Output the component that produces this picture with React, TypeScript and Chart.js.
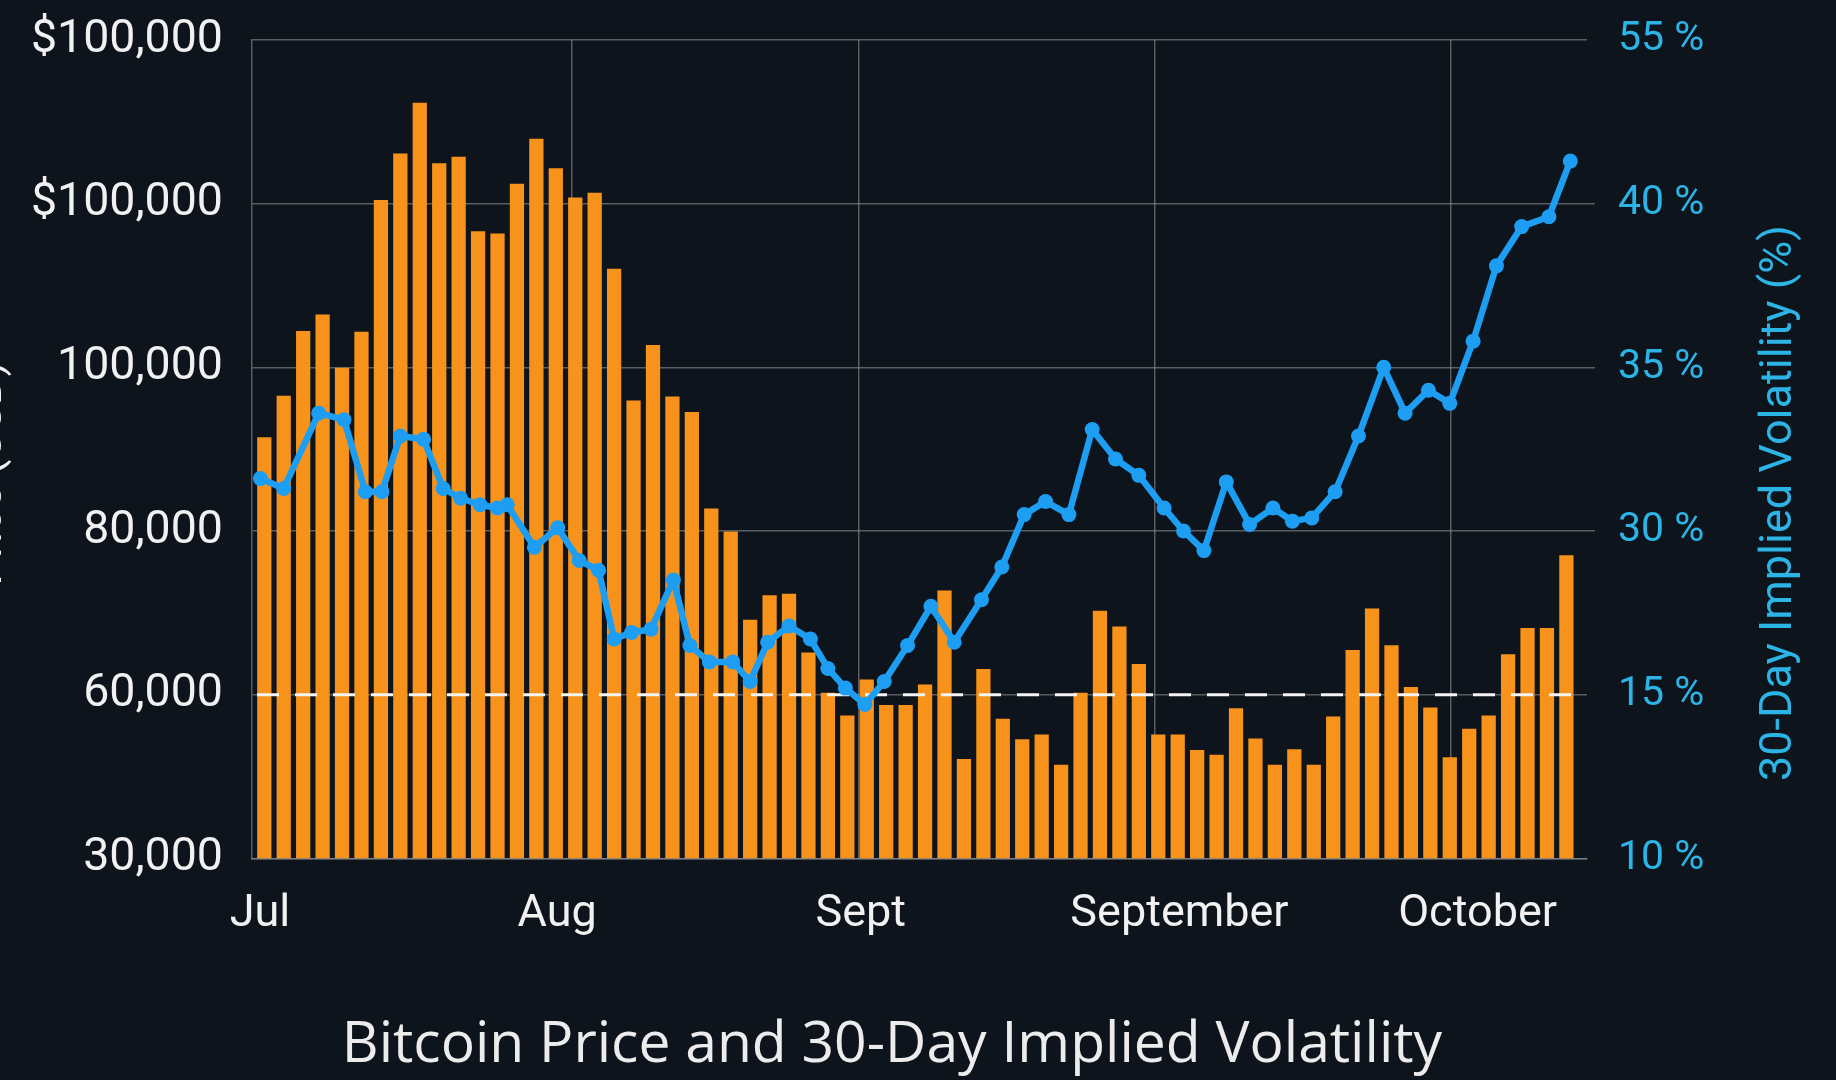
import { useEffect, useRef } from 'react';
import { Chart, registerables } from 'chart.js';

Chart.register(...registerables);

// Daily BTC closing price (USD), one bar per trading day (day index = position)
const PRICE_BARS = [
  91400, 96500, 104400, 106400, 99900, 104300, 120400, 126100, 132300, 124900,
  125700, 116600, 116300, 122400, 127900, 124300, 120700, 121300, 112000, 95900,
  102700, 96400, 94500, 82700, 79900, 69100, 72100, 72300, 65100, 60200,
  57400, 61800, 58700, 58700, 61200, 72700, 52100, 63100, 57000, 54500,
  55100, 51400, 60200, 70200, 68300, 63700, 55100, 55100, 53200, 52600,
  58300, 54600, 51400, 53300, 51400, 57300, 65400, 70500, 66000, 60900,
  58400, 52300, 55800, 57400, 64900, 68100, 68100, 77000,
];

// 30-day implied volatility samples: time (in trading days) and value (%)
const VOL_DAYS = [
  -0.2, 1.0, 2.8, 4.1, 5.2, 6.05, 7.0, 8.2, 9.2, 10.1,
  11.1, 12.0, 12.5, 13.9, 15.1, 16.2, 17.2, 18.0, 18.9, 19.9,
  21.05, 21.9, 22.9, 24.1, 25.0, 25.9, 27.0, 28.1, 29.0, 29.9,
  30.9, 31.9, 33.1, 34.3, 35.5, 36.9, 37.95, 39.1, 40.2, 41.4,
  42.6, 43.8, 45.0, 46.3, 47.3, 48.35, 49.5, 50.7, 51.9, 52.9,
  53.9, 55.1, 56.3, 57.6, 58.7, 59.9, 61.0, 62.2, 63.4, 64.7,
  66.1, 67.2,
];
const VOL_POINTS = [
  31.6, 31.3, 33.6, 33.4, 31.2, 31.2, 32.9, 32.8, 31.3, 31.0,
  30.8, 30.7, 30.8, 29.5, 30.1, 29.1, 28.8, 26.7, 26.9, 27.0,
  28.5, 26.5, 26.0, 26.0, 25.4, 26.6, 27.1, 26.7, 25.8, 25.2,
  24.7, 25.4, 26.5, 27.7, 26.6, 27.9, 28.9, 30.5, 30.9, 30.5,
  33.1, 32.2, 31.7, 30.7, 30.0, 29.4, 31.5, 30.2, 30.7, 30.3,
  30.4, 31.2, 32.9, 35.0, 33.6, 34.3, 33.9, 35.8, 38.1, 39.3,
  39.6, 41.3,
];

const PRICE_TICK_VALUES = [40000, 60000, 80000, 100000, 120000, 140000];
const PRICE_TICK_LABELS = ['30,000', '60,000', '80,000', '100,000', '$100,000', '$100,000'];

const VOL_TICK_VALUES = [20, 25, 30, 35, 40, 45];
const VOL_TICK_LABELS = ['10 %', '15 %', '30 %', '35 %', '40 %', '55 %'];

// Month labels and month separators, in trading-day units
const MONTH_LABELS = ['Jul', 'Aug', 'Sept', 'September', 'October'];
const MONTH_POS = [-0.22, 15.07, 30.69, 47.09, 62.43];
const MONTH_GRID_POS = [15.82, 30.57, 45.82, 61.05];

const THRESHOLD_PRICE = 60000;

const TITLE = 'Bitcoin Price and 30-Day Implied Volatility';
const LEFT_TITLE = 'Price (USD)';
const RIGHT_TITLE = '30-Day Implied Volatility (%)';

// visible day range of the time axis
const DAY_MIN = -0.633;
const DAY_MAX = 68.06;

const BG = '#0e141c';
const GRID = 'rgba(150,155,160,0.55)';
const ORANGE = '#f7931a';
const BLUE = '#1e9ef2';
const CYAN = '#2db4e6';
const WHITE = '#f1f1f1';
const FONT = 'Roboto, "Noto Sans", sans-serif';

const near = (a: number, b: number) => Math.abs(a - b) < 1e-6;

const backgroundPlugin = {
  id: 'bg',
  beforeDraw(chart: any) {
    const { ctx, width, height } = chart;
    ctx.save();
    ctx.fillStyle = BG;
    ctx.fillRect(0, 0, width, height);
    ctx.restore();
  },
};

const thresholdPlugin = {
  id: 'threshold',
  afterDatasetDraw(chart: any, args: any) {
    if (args.index !== 0) return;
    const { ctx, chartArea } = chart;
    const y = chart.scales.y.getPixelForValue(THRESHOLD_PRICE);
    ctx.save();
    ctx.strokeStyle = '#f4f4f4';
    ctx.lineWidth = 3;
    ctx.setLineDash([22, 16]);
    ctx.beginPath();
    ctx.moveTo(chartArea.left + 5, y);
    ctx.lineTo(chartArea.right - 8, y);
    ctx.stroke();
    ctx.restore();
  },
};

const sideTitlesPlugin = {
  id: 'sideTitles',
  afterDraw(chart: any) {
    const { ctx, chartArea } = chart;
    const midY = (chartArea.top + chartArea.bottom) / 2;
    ctx.save();
    ctx.textAlign = 'center';
    ctx.textBaseline = 'middle';

    ctx.save();
    ctx.translate(chartArea.left - 262, midY + 24);
    ctx.rotate(-Math.PI / 2);
    ctx.fillStyle = WHITE;
    ctx.font = `44px ${FONT}`;
    ctx.fillText(LEFT_TITLE, 0, 0);
    ctx.restore();

    ctx.save();
    ctx.translate(chartArea.right + 193, midY + 54);
    ctx.rotate(-Math.PI / 2);
    ctx.fillStyle = CYAN;
    ctx.font = `45px ${FONT}`;
    ctx.fillText(RIGHT_TITLE, 0, 0);
    ctx.restore();

    ctx.restore();
  },
};

export default function App() {
  const canvasRef = useRef<HTMLCanvasElement | null>(null);

  useEffect(() => {
    const canvas = canvasRef.current;
    if (!canvas) return;

    const xTickValues = [...MONTH_POS, ...MONTH_GRID_POS].sort((a, b) => a - b);

    const chart = new Chart(canvas, {
      type: 'bar',
      data: {
        datasets: [
          {
            type: 'bar',
            label: 'BTC price',
            data: PRICE_BARS.map((v, i) => ({ x: i, y: v })),
            backgroundColor: ORANGE,
            borderWidth: 0,
            barThickness: 13.6,
            xAxisID: 'x',
            yAxisID: 'y',
            order: 2,
          },
          {
            type: 'line',
            label: '30-day implied volatility',
            data: VOL_POINTS.map((v, i) => ({ x: VOL_DAYS[i], y: v })),
            borderColor: BLUE,
            backgroundColor: BLUE,
            borderWidth: 6.5,
            borderJoinStyle: 'round',
            borderCapStyle: 'round',
            pointRadius: 7.5,
            pointBorderWidth: 0,
            pointBackgroundColor: BLUE,
            tension: 0,
            xAxisID: 'x',
            yAxisID: 'y2',
            order: 1,
          },
        ],
      } as any,
      options: {
        responsive: false,
        devicePixelRatio: 1,
        animation: false,
        layout: { padding: { top: 40, right: 52, left: 0, bottom: 0 } },
        font: { family: FONT },
        plugins: {
          legend: { display: false },
          tooltip: { enabled: false },
          title: {
            display: true,
            position: 'bottom',
            text: TITLE,
            color: '#ececec',
            font: { family: '"Open Sans", Roboto, sans-serif', size: 57, weight: 'normal' },
            padding: { top: 0, bottom: 0 },
          },
        },
        scales: {
          x: {
            type: 'linear',
            position: 'bottom',
            offset: false,
            min: DAY_MIN,
            max: DAY_MAX,
            afterBuildTicks: (s: any) => {
              s.ticks = xTickValues.map((v) => ({ value: v }));
            },
            afterFit: (s: any) => {
              s.height = 153.3;
            },
            ticks: {
              autoSkip: false,
              maxRotation: 0,
              minRotation: 0,
              padding: 29.5,
              color: WHITE,
              font: { family: FONT, size: 45 },
              callback: (value: any) => {
                const i = MONTH_POS.findIndex((p) => near(p, Number(value)));
                return i >= 0 ? MONTH_LABELS[i] : '';
              },
            },
            grid: {
              offset: false,
              drawTicks: false,
              lineWidth: 1.5,
              color: (c: any) =>
                c.tick && MONTH_GRID_POS.some((p) => near(p, c.tick.value)) ? GRID : 'rgba(0,0,0,0)',
            },
            border: { display: true, color: GRID, width: 1.5 },
          },
          y: {
            position: 'left',
            min: PRICE_TICK_VALUES[0],
            max: PRICE_TICK_VALUES[PRICE_TICK_VALUES.length - 1],
            afterBuildTicks: (s: any) => {
              s.ticks = PRICE_TICK_VALUES.map((v) => ({ value: v }));
            },
            afterFit: (s: any) => {
              s.width = 252;
              s.paddingTop = 0;
            },
            ticks: {
              padding: 29,
              color: WHITE,
              font: { family: FONT, size: 46.5 },
              callback: (_v: any, i: number) => PRICE_TICK_LABELS[i],
            },
            grid: { color: GRID, lineWidth: 1.5, drawTicks: false },
            border: { display: true, color: GRID, width: 1.5 },
          },
          y2: {
            position: 'right',
            min: VOL_TICK_VALUES[0],
            max: VOL_TICK_VALUES[VOL_TICK_VALUES.length - 1],
            afterBuildTicks: (s: any) => {
              s.ticks = VOL_TICK_VALUES.map((v) => ({ value: v }));
            },
            afterFit: (s: any) => {
              s.width = 197;
              s.paddingTop = 0;
            },
            ticks: {
              padding: 23,
              color: CYAN,
              font: { family: FONT, size: 41 },
              callback: (_v: any, i: number) => VOL_TICK_LABELS[i],
            },
            grid: {
              drawOnChartArea: false,
              drawTicks: true,
              tickLength: 8,
              lineWidth: 1.5,
              color: (c: any) =>
                c.tick && [30, 35, 40].includes(c.tick.value) ? GRID : 'rgba(0,0,0,0)',
            },
            border: { display: false },
          },
        },
      } as any,
      plugins: [backgroundPlugin, thresholdPlugin, sideTitlesPlugin],
    });

    return () => chart.destroy();
  }, []);

  return (
    <div
      style={{
        position: 'fixed',
        left: 0,
        top: 0,
        width: 1836,
        height: 1080,
        background: BG,
        overflow: 'hidden',
      }}
    >
      <canvas ref={canvasRef} width={1836} height={1080} style={{ width: 1836, height: 1080, display: 'block' }} />
    </div>
  );
}
